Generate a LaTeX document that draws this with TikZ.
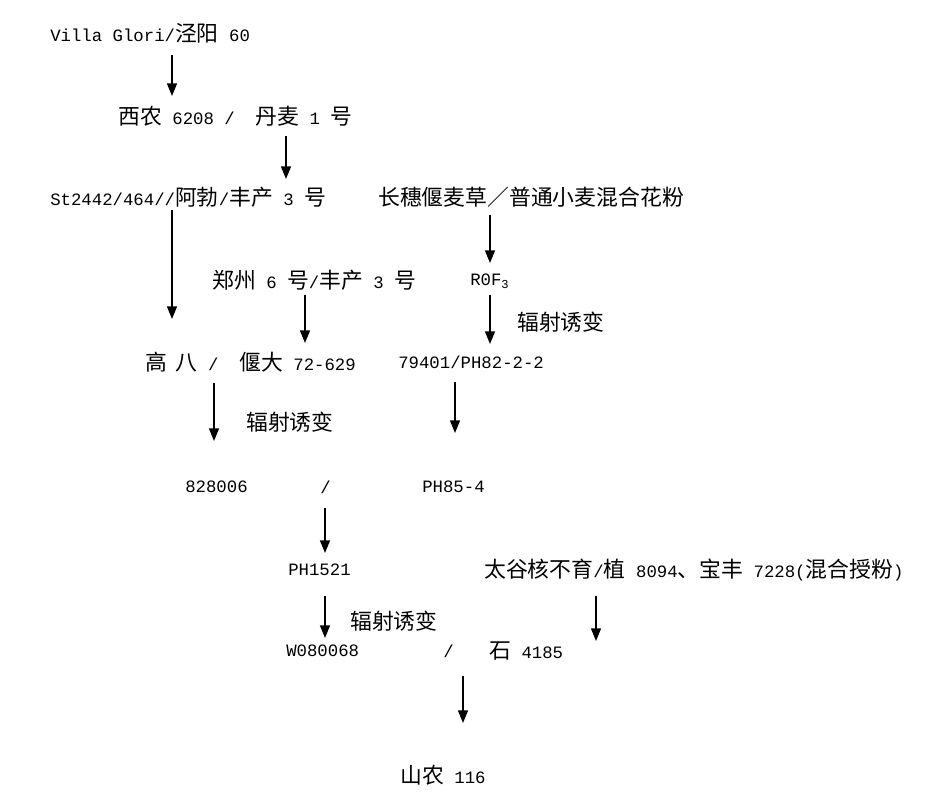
\documentclass[tikz,border=0pt]{standalone}
\usepackage{fontspec}
\setmainfont{Liberation Mono}
\newfontfamily\cjk[Scale=1.26]{Noto Sans CJK SC}
\newcommand\zh[1]{{\cjk #1}}
\usetikzlibrary{arrows.meta}
\tikzset{
    txt/.style={anchor=west, inner sep=0pt, font=\fontsize{13pt}{16pt}\selectfont},
    arr/.style={line width=1.15pt, -{Triangle[width=7.5pt,length=9.5pt]}}
}
\begin{document}
\begin{tikzpicture}[x=0.75pt, y=-0.75pt]
                    \useasboundingbox (0,0) rectangle (952,805);

                    \node [txt] (villa)     at ( 50, 33) {Villa Glori/\zh{泾阳} 60};
                    \node [txt] (xinong)    at (118,116) {\zh{西农} 6208 /\hspace{1.2em}\zh{丹麦} 1 \zh{号}};
                    \node [txt] (st2442)    at ( 50,197) {St2442/464//\zh{阿勃}/\zh{丰产} 3 \zh{号}};
                    \node [txt] (changsui)  at (378,197) {\zh{长穗偃麦草／普通小麦混合花粉}};
                    \node [txt] (zhengzhou) at (212,280) {\zh{郑州} 6 \zh{号}/\zh{丰产} 3 \zh{号}};
                    \node [txt] (rofthree)  at (470,281) {R0F\textsubscript{3}};
                    \node [txt] (gaoba)     at (145,362) {\zh{高\hspace{0.4em}八}\hspace{0.6em}/\hspace{1.2em}\zh{偃大} 72-629};
                    \node [txt] (ph822)     at (398,362) {79401/PH82-2-2};
                    \node [txt] (ps828)     at (185,487) {828006};
                    \node [txt] (slasha)    at (320,487) {/};
                    \node [txt] (ph854)     at (422,487) {PH85-4};
                    \node [txt] (ph1521)    at (288,570) {PH1521};
                    \node [txt] (taigu)     at (484,570) {\zh{太谷核不育}/\zh{植} 8094\zh{、宝丰} 7228(\zh{混合授粉})};
                    \node [txt] (wzero)     at (286,651) {W080068};
                    \node [txt] (slashb)    at (443,651) {/};
                    \node [txt] (shi)       at (489,651) {\zh{石} 4185};
                    \node [txt] (shannong)  at (400,775) {\zh{山农} 116};

                    \node [txt] (fushea)    at (517,322) {\zh{辐射诱变}};
                    \node [txt] (fusheb)    at (246,422) {\zh{辐射诱变}};
                    \node [txt] (fushec)    at (350,621) {\zh{辐射诱变}};

                    \coordinate (ta) at (172, 55);  \coordinate (ha) at (172, 96);
                    \coordinate (tb) at (286,136);  \coordinate (hb) at (286,179);
                    \coordinate (tc) at (172,210);  \coordinate (hc) at (172,319);
                    \coordinate (td) at (490,215);  \coordinate (hd) at (490,263);
                    \coordinate (te) at (305,295);  \coordinate (he) at (305,343);
                    \coordinate (tf) at (490,295);  \coordinate (hf) at (490,344);
                    \coordinate (tg) at (214,383);  \coordinate (hg) at (214,441);
                    \coordinate (th) at (455,382);  \coordinate (hh) at (455,433);
                    \coordinate (ti) at (325,508);  \coordinate (hi) at (325,553);
                    \coordinate (tj) at (325,596);  \coordinate (hj) at (325,638);
                    \coordinate (tk) at (596,596);  \coordinate (hk) at (596,641);
                    \coordinate (tl) at (463,676);  \coordinate (hl) at (463,723);

                    \foreach \a in {a,b,c,d,e,f,g,h,i,j,k,l}
                        \draw [arr] (t\a) -- (h\a);
\end{tikzpicture}
\end{document}
